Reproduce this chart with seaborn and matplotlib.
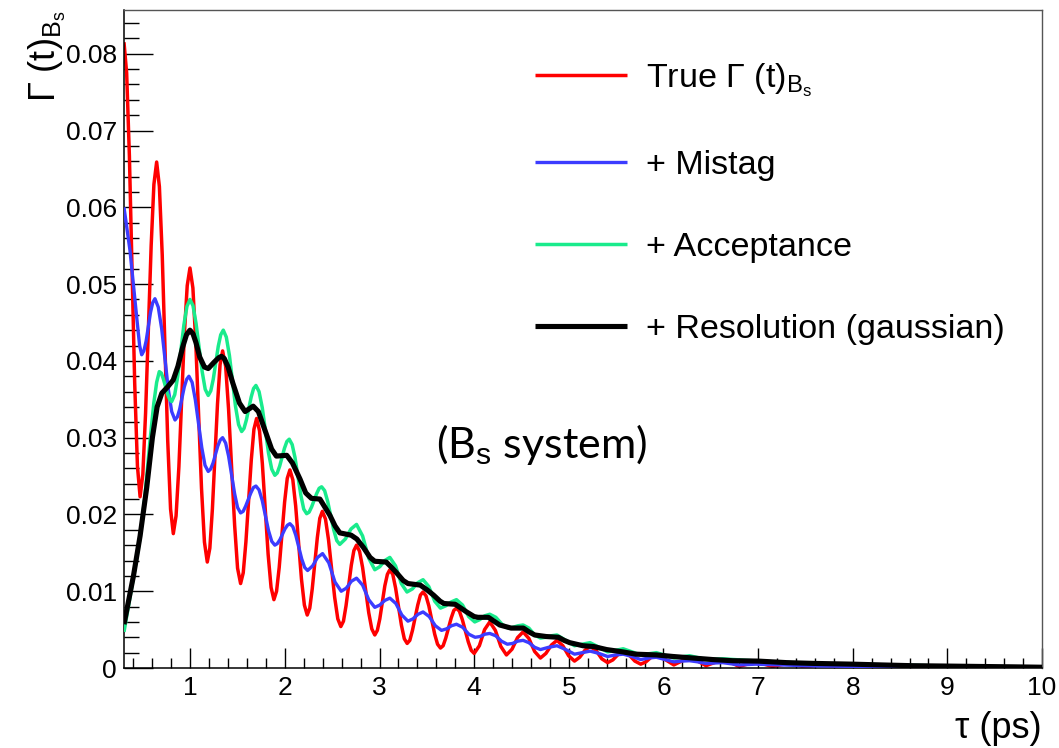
import numpy as np
import pandas as pd
import matplotlib
matplotlib.use("Agg")
import matplotlib.pyplot as plt
import seaborn as sns
from matplotlib.ticker import MultipleLocator, FuncFormatter

# ---- data ----
t_true = [0.300, 0.328, 0.357, 0.413, 0.442,
          0.470, 0.499, 0.528, 0.587, 0.616,
          0.645, 0.674, 0.704, 0.762, 0.792,
          0.821, 0.850, 0.880, 0.938, 0.968,
          0.997, 1.028, 1.058, 1.119, 1.150,
          1.180, 1.207, 1.234, 1.288, 1.315,
          1.342, 1.374, 1.405, 1.469, 1.500,
          1.532, 1.560, 1.588, 1.645, 1.673,
          1.701, 1.732, 1.762, 1.823, 1.854,
          1.884, 1.912, 1.940, 1.997, 2.025,
          2.053, 2.084, 2.114, 2.175, 2.206,
          2.236, 2.263, 2.289, 2.343, 2.369,
          2.396, 2.429, 2.461, 2.526, 2.559,
          2.591, 2.619, 2.646, 2.702, 2.729,
          2.757, 2.789, 2.821, 2.886, 2.918,
          2.950, 2.977, 3.003, 3.056, 3.083,
          3.109, 3.140, 3.170, 3.231, 3.262,
          3.292, 3.320, 3.348, 3.404, 3.432,
          3.460, 3.491, 3.521, 3.583, 3.613,
          3.644, 3.672, 3.700, 3.757, 3.785,
          3.813, 3.844, 3.875, 3.938, 3.969,
          4.000, 4.055, 4.110, 4.165, 4.224, 4.282, 4.341,
          4.400, 4.458, 4.517, 4.578, 4.639, 4.700, 4.758, 4.817, 4.875, 4.937,
          4.998, 5.060, 5.115, 5.170, 5.225, 5.287, 5.348, 5.410, 5.465, 5.520,
          5.575, 5.637, 5.698, 5.760, 5.815, 5.870, 5.925, 6.018, 6.110, 6.193,
          6.275, 6.363, 6.450, 6.538, 6.625, 6.713, 6.800, 6.888, 6.975, 7.063,
          7.150, 7.238, 7.325, 7.413, 7.500, 7.588, 7.675, 7.763, 7.850, 7.938,
          8.025, 8.200, 8.375, 8.550, 8.725, 8.900, 9.075, 9.250, 9.425, 9.600,
          10.00]
g_true = [0.0815, 0.0775, 0.0667, 0.0371, 0.0263,
          0.0223, 0.0252, 0.0332, 0.0550, 0.0630,
          0.0659, 0.0627, 0.0538, 0.0296, 0.0207,
          0.0175, 0.0198, 0.0262, 0.0435, 0.0498,
          0.0521, 0.0495, 0.0425, 0.0234, 0.0164,
          0.0138, 0.0156, 0.0207, 0.0344, 0.0395,
          0.0413, 0.0393, 0.0337, 0.0186, 0.0130,
          0.0110, 0.0124, 0.0164, 0.0271, 0.0311,
          0.0325, 0.0309, 0.0266, 0.0148, 0.0105,
          0.0089, 0.0100, 0.0131, 0.0216, 0.0247,
          0.0258, 0.0245, 0.0211, 0.0116, 0.0082,
          0.0069, 0.0078, 0.0103, 0.0170, 0.0195,
          0.0204, 0.0194, 0.0167, 0.0092, 0.0064,
          0.0054, 0.0061, 0.0081, 0.0134, 0.0153,
          0.0160, 0.0152, 0.0131, 0.0072, 0.0051,
          0.0043, 0.0049, 0.0064, 0.0107, 0.0122,
          0.0128, 0.0122, 0.0104, 0.0056, 0.0038,
          0.0032, 0.0036, 0.0049, 0.0082, 0.0095,
          0.0099, 0.0094, 0.0081, 0.0044, 0.0031,
          0.0026, 0.0029, 0.0039, 0.0065, 0.0075,
          0.0078, 0.0074, 0.0063, 0.0034, 0.0023,
          0.0019, 0.0029, 0.0050, 0.0060, 0.0049, 0.0028, 0.0017,
          0.00245, 0.00395, 0.0047, 0.00385, 0.00215, 0.0013, 0.0019, 0.0030, 0.0036, 0.0029,
          0.0016, 0.0009, 0.0014, 0.0023, 0.0028, 0.0023, 0.0012, 0.0007, 0.00105, 0.00175,
          0.0021, 0.0017, 0.0009, 0.0005, 0.0008, 0.0014, 0.0017, 0.0011, 0.0004, 0.0009,
          0.0014, 0.0009, 0.0003, 0.0007, 0.0011, 0.0007, 0.0002, 0.0005, 0.0008, 0.0005,
          0.0002, 0.0004, 0.0006, 0.0004, 0.0001, 0.0003, 0.0005, 0.0003, 0.0001, 0.0003,
          0.0004, 0.0001, 0.0003, 0.0001, 0.0002, 0.0001, 0.0002, 0.0000, 0.0001, 0.0000,
          0.0001]

t_mistag = [0.300, 0.363, 0.434, 0.465, 0.487, 0.510, 0.534, 0.580, 0.604, 0.627,
            0.662, 0.698, 0.768, 0.804, 0.839, 0.864, 0.888, 0.937, 0.962, 0.986,
            1.020, 1.054, 1.122, 1.156, 1.190, 1.215, 1.241, 1.291, 1.317, 1.342,
            1.374, 1.405, 1.469, 1.500, 1.532, 1.559, 1.586, 1.640, 1.667, 1.694,
            1.727, 1.761, 1.827, 1.861, 1.894, 1.920, 1.947, 2.000, 2.027, 2.053,
            2.084, 2.115, 2.178, 2.209, 2.240, 2.293, 2.345, 2.398, 2.464, 2.529,
            2.595, 2.649, 2.703, 2.757, 2.821, 2.886, 2.950, 3.003, 3.056, 3.109,
            3.173, 3.236, 3.300, 3.353, 3.407, 3.460, 3.525, 3.590, 3.655, 3.708,
            3.760, 3.813, 3.879, 3.944, 4.010, 4.062, 4.113, 4.165, 4.227, 4.288,
            4.350, 4.406, 4.461, 4.517, 4.578, 4.639, 4.700, 4.788, 4.875, 4.968,
            5.060, 5.143, 5.225, 5.318, 5.410, 5.493, 5.575, 5.668, 5.760, 5.843,
            5.925, 6.018, 6.110, 6.193, 6.275, 6.363, 6.450, 6.538, 6.625, 6.713,
            6.800, 6.888, 6.975, 7.500, 8.000, 9.000, 10.00]
g_mistag = [0.0600, 0.0544, 0.0457, 0.0420, 0.0408, 0.0413, 0.0426, 0.0463, 0.0476, 0.0481,
            0.0470, 0.0442, 0.0363, 0.0334, 0.0323, 0.0327, 0.0337, 0.0366, 0.0376, 0.0380,
            0.0372, 0.0349, 0.0287, 0.0264, 0.0256, 0.0259, 0.0267, 0.0289, 0.0297, 0.0300,
            0.0293, 0.0276, 0.0227, 0.0209, 0.0202, 0.0204, 0.0211, 0.0228, 0.0235, 0.0237,
            0.0232, 0.0218, 0.0179, 0.0165, 0.0160, 0.0162, 0.0167, 0.0181, 0.0186, 0.0188,
            0.0184, 0.0173, 0.0142, 0.0131, 0.0127, 0.0133, 0.0144, 0.0149, 0.0137, 0.0112,
            0.0100, 0.0104, 0.0113, 0.0117, 0.0108, 0.0089, 0.0079, 0.0082, 0.0088, 0.0091,
            0.0084, 0.0069, 0.0061, 0.0064, 0.0070, 0.0073, 0.0067, 0.0055, 0.0049, 0.0051,
            0.0055, 0.0057, 0.0053, 0.0044, 0.0040, 0.0041, 0.0044, 0.0045, 0.0042, 0.0035,
            0.0031, 0.0032, 0.0035, 0.0036, 0.0033, 0.0027, 0.0024, 0.0027, 0.0029, 0.0024,
            0.0018, 0.0020, 0.0022, 0.0019, 0.0015, 0.0017, 0.0018, 0.0015, 0.0011, 0.0013,
            0.0014, 0.0011, 0.0008, 0.0009, 0.00095, 0.0008, 0.0006, 0.00065, 0.0007, 0.00055,
            0.0004, 0.00045, 0.0005, 0.0003, 0.0002, 0.0001, 0.00005]

t_accept = [0.300, 0.400, 0.470, 0.520, 0.570, 0.615, 0.645, 0.673, 0.695, 0.717,
            0.760, 0.782, 0.804, 0.836, 0.868, 0.933, 0.965, 0.997, 1.029, 1.061,
            1.126, 1.158, 1.190, 1.217, 1.243, 1.296, 1.322, 1.349, 1.381, 1.414,
            1.478, 1.511, 1.543, 1.568, 1.593, 1.644, 1.669, 1.694, 1.727, 1.761,
            1.827, 1.861, 1.894, 1.919, 1.945, 1.995, 2.021, 2.046, 2.077, 2.107,
            2.169, 2.199, 2.230, 2.256, 2.283, 2.335, 2.362, 2.388, 2.420, 2.452,
            2.516, 2.548, 2.580, 2.639, 2.698, 2.757, 2.821, 2.886, 2.950, 3.003,
            3.056, 3.109, 3.169, 3.230, 3.290, 3.347, 3.403, 3.460, 3.521, 3.583,
            3.644, 3.700, 3.757, 3.813, 3.877, 3.942, 4.006, 4.059, 4.112, 4.165,
            4.229, 4.294, 4.358, 4.411, 4.464, 4.517, 4.578, 4.639, 4.700, 4.758,
            4.817, 4.875, 4.968, 5.060, 5.143, 5.225, 5.318, 5.410, 5.493, 5.575,
            5.668, 5.760, 5.843, 5.925, 6.018, 6.110, 6.193, 6.275, 6.363, 6.450,
            6.538, 6.625, 7.000, 7.500, 8.000, 9.000, 10.00]
g_accept = [0.0047, 0.0118, 0.0170, 0.0222, 0.0290, 0.0345, 0.0372, 0.0386, 0.0384, 0.0376,
            0.0357, 0.0350, 0.0347, 0.0356, 0.0380, 0.0447, 0.0471, 0.0480, 0.0472, 0.0449,
            0.0386, 0.0363, 0.0355, 0.0361, 0.0376, 0.0419, 0.0434, 0.0440, 0.0431, 0.0407,
            0.0341, 0.0317, 0.0308, 0.0312, 0.0323, 0.0353, 0.0364, 0.0368, 0.0360, 0.0339,
            0.0280, 0.0259, 0.0251, 0.0254, 0.0263, 0.0286, 0.0295, 0.0298, 0.0291, 0.0274,
            0.0225, 0.0207, 0.0201, 0.0203, 0.0210, 0.0227, 0.0234, 0.0236, 0.0231, 0.0217,
            0.0180, 0.0166, 0.0161, 0.0168, 0.0181, 0.0187, 0.0172, 0.0143, 0.0128, 0.0132,
            0.0140, 0.0144, 0.0133, 0.0110, 0.0099, 0.0103, 0.0111, 0.0115, 0.0106, 0.0087,
            0.0078, 0.0081, 0.0086, 0.0089, 0.0082, 0.0067, 0.0060, 0.0063, 0.0068, 0.0070,
            0.0066, 0.0057, 0.0052, 0.0053, 0.0055, 0.0056, 0.0052, 0.0043, 0.0039, 0.0040,
            0.0042, 0.0043, 0.0036, 0.0029, 0.0031, 0.0033, 0.0027, 0.0021, 0.0023, 0.0025,
            0.0021, 0.0017, 0.00185, 0.0020, 0.00165, 0.0013, 0.00145, 0.0016, 0.00135, 0.0011,
            0.00115, 0.0012, 0.0009, 0.0006, 0.0005, 0.00025, 0.0001]

t_resol = [0.300, 0.400, 0.470, 0.540, 0.600, 0.650, 0.700, 0.760, 0.820, 0.870,
           0.920, 0.960, 0.997, 1.030, 1.060, 1.100, 1.150, 1.190, 1.250, 1.300,
           1.330, 1.360, 1.400, 1.450, 1.520, 1.580, 1.665, 1.720, 1.800, 1.860,
           1.910, 2.020, 2.080, 2.160, 2.220, 2.280, 2.370, 2.420, 2.475, 2.530,
           2.580, 2.700, 2.760, 2.830, 2.900, 2.950, 3.070, 3.120, 3.180, 3.250,
           3.300, 3.430, 3.500, 3.570, 3.640, 3.680, 3.800, 3.860, 3.920, 4.000,
           4.040, 4.150, 4.210, 4.270, 4.390, 4.520, 4.580, 4.640, 4.760, 4.890,
           4.950, 5.010, 5.150, 5.260, 5.400, 5.570, 5.710, 5.930, 6.100, 6.310,
           6.520, 6.730, 7.000, 7.300, 7.580, 8.000, 8.300, 8.630, 9.000, 9.340,
           9.700, 10.00]
g_resol = [0.0057, 0.0120, 0.0172, 0.0235, 0.0300, 0.0340, 0.0358, 0.0366, 0.0375, 0.0393,
           0.0418, 0.0434, 0.0440, 0.0435, 0.0424, 0.0405, 0.0392, 0.0390, 0.0398, 0.0404,
           0.0406, 0.0403, 0.0392, 0.0371, 0.0345, 0.0334, 0.0341, 0.0334, 0.0306, 0.0285,
           0.0276, 0.0277, 0.0267, 0.0246, 0.0228, 0.0221, 0.0220, 0.0210, 0.0199, 0.0185,
           0.0176, 0.0173, 0.0168, 0.0157, 0.0144, 0.0139, 0.0138, 0.0132, 0.0124, 0.0114,
           0.0110, 0.0108, 0.0102, 0.0095, 0.0087, 0.0084, 0.0083, 0.0078, 0.0073, 0.0067,
           0.0066, 0.0066, 0.0061, 0.0056, 0.0052, 0.0052, 0.0047, 0.0043, 0.0041, 0.0040,
           0.0036, 0.0033, 0.0029, 0.0028, 0.0024, 0.0021, 0.0018, 0.0017, 0.0015, 0.0013,
           0.0011, 0.00095, 0.0009, 0.0007, 0.0006, 0.0005, 0.0004, 0.0003, 0.00025, 0.0002,
           0.00015, 0.0001]

series_labels = [r"True $\Gamma$ (t)$_{\mathrm{B}_{\mathrm{s}}}$", "+ Mistag",
                 "+ Acceptance", "+ Resolution (gaussian)"]
x_ticks = [1, 2, 3, 4, 5, 6, 7, 8, 9, 10]
y_ticks = [0, 0.01, 0.02, 0.03, 0.04, 0.05, 0.06, 0.07, 0.08]

# ---- style ----
sns.set_style("white")
plt.rcParams["font.family"] = ["Liberation Sans", "DejaVu Sans"]
plt.rcParams["mathtext.fontset"] = "custom"
plt.rcParams["mathtext.rm"] = "Liberation Sans"
plt.rcParams["mathtext.it"] = "Liberation Sans:italic"
plt.rcParams["mathtext.bf"] = "Liberation Sans:bold"
plt.rcParams["text.color"] = "black"
plt.rcParams["axes.labelcolor"] = "black"
plt.rcParams["xtick.color"] = "black"
plt.rcParams["ytick.color"] = "black"

fig = plt.figure(figsize=(10.59, 7.48), dpi=100)
ax = fig.add_axes([0.11709, 0.10695, 0.86686, 0.87968])

curves = [(t_true, g_true, "#ff0000", 2.5),
          (t_mistag, g_mistag, "#3c3cff", 2.4),
          (t_accept, g_accept, "#19eb8c", 2.5),
          (t_resol, g_resol, "#000000", 3.7)]
for i, (tx, gy, col, lw) in enumerate(curves):
    df = pd.DataFrame({"tau": tx, "gamma": gy})
    sns.lineplot(data=df, x="tau", y="gamma", ax=ax, color=col, linewidth=lw,
                 estimator=None, sort=False, label=series_labels[i], zorder=2 + i)
for ln in ax.get_lines():
    ln.set_solid_joinstyle("round")
    ln.set_solid_capstyle("butt")

ax.set_xlim(0.3, 10)
ax.set_ylim(0, 0.0857)
ax.set_xticks(x_ticks)
ax.set_yticks(y_ticks)
ax.xaxis.set_minor_locator(MultipleLocator(0.2))
ax.yaxis.set_minor_locator(MultipleLocator(0.002))
ax.yaxis.set_major_formatter(FuncFormatter(lambda v, p: "0" if abs(v) < 1e-12 else f"{v:.2f}"))
ax.xaxis.set_major_formatter(FuncFormatter(lambda v, p: f"{v:.0f}"))

ax.tick_params(axis="y", which="major", direction="in", length=21, width=1.0,
               labelsize=19, pad=5, left=True, right=False, color="black", labelcolor="black")
ax.tick_params(axis="y", which="minor", direction="in", length=10.5, width=1.0,
               left=True, right=False, color="black")
ax.tick_params(axis="x", which="major", direction="in", length=14.4, width=1.0,
               labelsize=19, pad=6, bottom=True, top=False, color="black", labelcolor="black")
ax.tick_params(axis="x", which="minor", direction="in", length=7.2, width=1.0,
               bottom=True, top=False, color="black")

for s in ["left", "bottom"]:
    ax.spines[s].set_color("black")
    ax.spines[s].set_linewidth(1.1)
for s in ["top", "right"]:
    ax.spines[s].set_color("#555555")
    ax.spines[s].set_linewidth(1.0)

ax.set_xlabel("τ (ps)", fontsize=26, loc="right", color="black")
ax.xaxis.set_label_coords(1.0, -0.066)
ax.set_ylabel(r"$\Gamma$ (t)$_{\mathrm{B}_{\mathrm{s}}}$", fontsize=26, loc="top", color="black")
ax.yaxis.set_label_coords(-0.061, 1.0)

leg = ax.legend(loc="upper left", bbox_to_anchor=(0.4477, 0.922), frameon=False,
                fontsize=24.6, handlelength=2.7, handletextpad=0.55, labelspacing=1.5,
                borderpad=0, borderaxespad=0)
for txt in leg.get_texts():
    txt.set_color("black")

ax.text(0.455, 0.340, r"(B$_{\mathrm{s}}$ system)", transform=ax.transAxes,
        ha="center", va="center", fontsize=31, color="black",
        family=["Lato", "DejaVu Sans"])

fig.savefig("out.png", dpi=100)
